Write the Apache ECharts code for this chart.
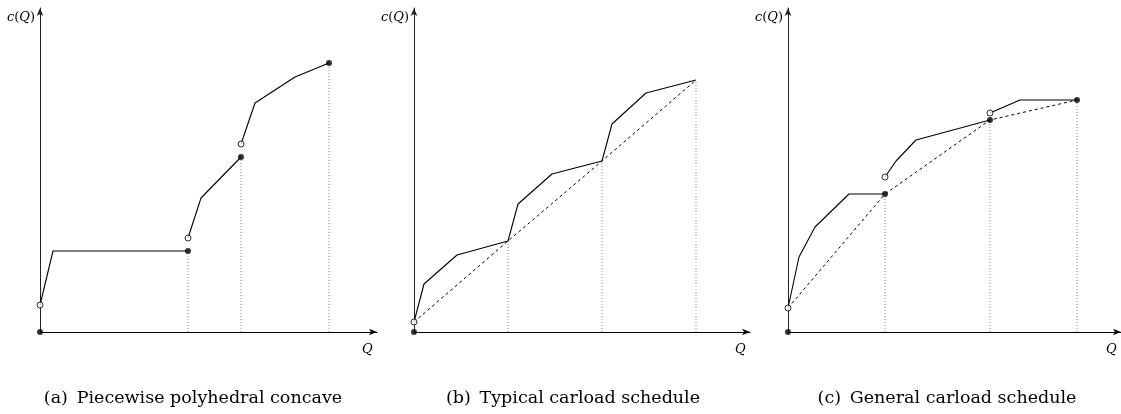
<!DOCTYPE html>
<html><head><meta charset="utf-8">
<script src="https://cdn.jsdelivr.net/npm/echarts@6/dist/echarts.min.js"></script>
<style>html,body{margin:0;padding:0;background:#fff}#c{width:1121px;height:414px}</style>
</head><body><div id="c"></div>
<script>
// Panel (a): piecewise polyhedral concave
const aSolid = [
  [[0,27],[13,81],[148,81]],
  [[148,94],[161,134],[201,175]],
  [[201,188],[215,229],[255,255],[289,269]]
];
const aFilled = [[0,0],[148,81],[201,175],[289,269]];
const aOpen = [[0,27],[148,94],[201,188]];
const aDotted = [[148,81],[201,175],[289,269]];
const aDashed = [];

// Panel (b): typical carload schedule
const bSolid = [
  [[0,10],[10,48],[43,77],[94,91],[104,128],[138,158],[188,171],[198,208],[232,239],[282,252]]
];
const bFilled = [[0,0]];
const bOpen = [[0,10]];
const bDotted = [[94,91],[188,171],[282,252]];
const bDashed = [[0,10],[94,91],[188,171],[282,252]];

// Panel (c): general carload schedule
const cSolid = [
  [[0,24],[11,75],[27,105],[61,138],[97,138]],
  [[97,155],[108,171],[128,192],[202,212]],
  [[202,219],[232,232],[289,232]]
];
const cFilled = [[0,0],[97,138],[202,212],[289,232]];
const cOpen = [[0,24],[97,155],[202,219]];
const cDotted = [[97,138],[202,212],[289,232]];
const cDashed = [[0,24],[97,138],[202,212],[289,232]];

const captions = ['(a)\u2002Piecewise polyhedral concave', '(b)\u2002Typical carload schedule', '(c)\u2002General carload schedule'];
const yName = 'c(Q)';
const xName = 'Q';

const panels = [
  {solid:aSolid, filled:aFilled, open:aOpen, dotted:aDotted, dashed:aDashed, left:40, width:337, xmax:337, cap:193},
  {solid:bSolid, filled:bFilled, open:bOpen, dotted:bDotted, dashed:bDashed, left:414, width:336, xmax:336, cap:573},
  {solid:cSolid, filled:cFilled, open:cOpen, dotted:cDotted, dashed:cDashed, left:788, width:333, xmax:333, cap:947}
];
const TOP = 8, H = 324, YMAX = 324;
const serif = '"DejaVu Serif", "Liberation Serif", serif';

const grids = [], xAxes = [], yAxes = [], series = [], graphics = [];
const axisCommon = {
  axisTick:{show:false}, axisLabel:{show:false}, splitLine:{show:false}
};
panels.forEach((p, i) => {
  grids.push({left:p.left, top:TOP, width:p.width, height:H, containLabel:false});
  xAxes.push(Object.assign({type:'value', gridIndex:i, min:0, max:p.xmax,
    axisLine:{show:true, onZero:false, symbol:['none','arrow'], symbolSize:[5,8], lineStyle:{color:'#000', width:1}}}, axisCommon));
  yAxes.push(Object.assign({type:'value', gridIndex:i, min:0, max:YMAX,
    axisLine:{show:true, onZero:false, symbol:['none','arrow'], symbolSize:[5,8], lineStyle:{color:'#222', width:1}}}, axisCommon));
  p.dotted.forEach(pt => {
    series.push({type:'line', xAxisIndex:i, yAxisIndex:i, data:[[pt[0],0],pt], symbol:'none', silent:true,
      lineStyle:{color:'#888', width:1, type:[1,2]}, z:1, animation:false});
  });
  if (p.dashed.length) {
    series.push({type:'line', xAxisIndex:i, yAxisIndex:i, data:p.dashed, symbol:'none', silent:true,
      lineStyle:{color:'#000', width:1, type:[3,3]}, z:2, animation:false});
  }
  p.solid.forEach(seg => {
    series.push({type:'line', xAxisIndex:i, yAxisIndex:i, data:seg, symbol:'none', silent:true,
      lineStyle:{color:'#000', width:1.1}, z:3, animation:false});
  });
  series.push({type:'scatter', xAxisIndex:i, yAxisIndex:i, data:p.filled, symbol:'circle', symbolSize:6,
    itemStyle:{color:'#000'}, z:5, animation:false});
  series.push({type:'scatter', xAxisIndex:i, yAxisIndex:i, data:p.open, symbol:'circle', symbolSize:6,
    itemStyle:{color:'#fff', borderColor:'#000', borderWidth:1}, z:5, animation:false});
  // axis labels
  graphics.push({type:'text', left:p.left - 33, top:11, style:{
    text:'{i|c}({i|Q})', font:'13px ' + serif, fill:'#000',
    rich:{i:{fontStyle:'italic', fontFamily:serif, fontSize:13}}}});
  graphics.push({type:'text', left:p.left + p.width - 15, top:343, style:{
    text:xName, font:'italic 13px ' + serif, fill:'#000'}});
  graphics.push({type:'text', x:p.cap, y:398, style:{
    text:captions[i], font:'17.5px ' + serif, fill:'#000', textAlign:'center', textVerticalAlign:'middle'}});
});

const chart = echarts.init(document.getElementById('c'), null, {renderer:'canvas'});
chart.setOption({
  backgroundColor:'#fff', animation:false,
  grid:grids, xAxis:xAxes, yAxis:yAxes, series:series, graphic:graphics
});
</script></body></html>
